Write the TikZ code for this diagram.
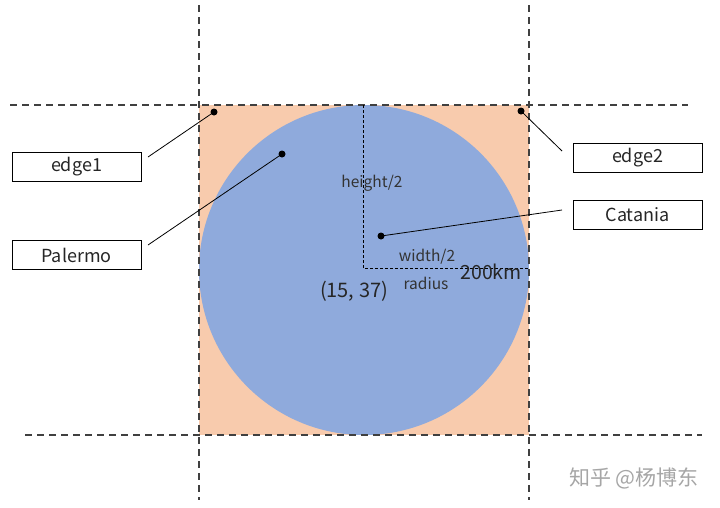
\documentclass[tikz,border=0pt]{standalone}
\usepackage{fontspec}
\setmainfont{Noto Sans CJK SC}
\definecolor{peach}{HTML}{F8CBAD}
\definecolor{cblue}{HTML}{8FAADC}
\definecolor{dgray}{HTML}{404040}
\begin{document}
\begin{tikzpicture}[x=1pt,y=-1pt,
  guide/.style={draw=dgray,line width=1.1pt,dash pattern=on 7pt off 5pt},
  inner/.style={draw=black,line width=0.8pt,dash pattern=on 3pt off 2pt},
  labelbox/.style={draw=black,line width=0.8pt,fill=white,minimum width=129pt,minimum height=29pt,inner sep=0pt,font=\fontsize{18}{20}\selectfont,text=black!85},
  dot/.style={circle,fill=black,inner sep=0pt,minimum size=7pt},
  lead/.style={draw=black,line width=0.8pt},
  small/.style={font=\fontsize{15.5}{17}\selectfont,text=black!80,inner sep=0pt}]
\useasboundingbox (0,0) rectangle (720,507);
\fill[peach] (199,105) rectangle (529,435);
\fill[cblue] (364,270) circle (165);
\draw[guide] (199,5) -- (199,500);
\draw[guide] (529,5) -- (529,500);
\draw[guide] (10,105) -- (688,105);
\draw[guide] (25,435) -- (702,435);
\coordinate (c) at (363,268);
\draw[inner] (363,105) -- (c) -- (529,268);
\node[labelbox] (edge1) at (76.5,166.5) {edge1};
\node[labelbox] (palermo) at (76.5,255) {Palermo};
\node[labelbox] (edge2) at (637.5,158) {edge2};
\node[labelbox] (catania) at (637.5,215) {Catania};
\node[dot] (d1) at (214,112) {};
\node[dot] (d2) at (282,154) {};
\node[dot] (d3) at (521,111) {};
\node[dot] (d4) at (381,236) {};
\coordinate (e1) at (148,157);
\coordinate (p1) at (148,245);
\coordinate (e2) at (562,151);
\coordinate (c1) at (562,210);
\draw[lead] (e1) -- (d1.center);
\draw[lead] (p1) -- (d2.center);
\draw[lead] (e2) -- (d3.center);
\draw[lead] (c1) -- (d4.center);
\node[small] (h2) at (372,183) {height/2};
\node[small] (w2) at (427,257) {width/2};
\node[small] (rad) at (426,283) {radius};
\node[inner sep=0pt,font=\fontsize{19.5}{21}\selectfont,text=black!85] (km) at (491,272) {200km};
\node[inner sep=0pt,font=\fontsize{20}{22}\selectfont,text=black!85] (coord) at (354,291) {(15, 37)};
\node[inner sep=0pt,font=\fontsize{21}{23}\selectfont,text=black!35] (wm) at (634,478) {知乎 @杨博东};
\end{tikzpicture}
\end{document}
